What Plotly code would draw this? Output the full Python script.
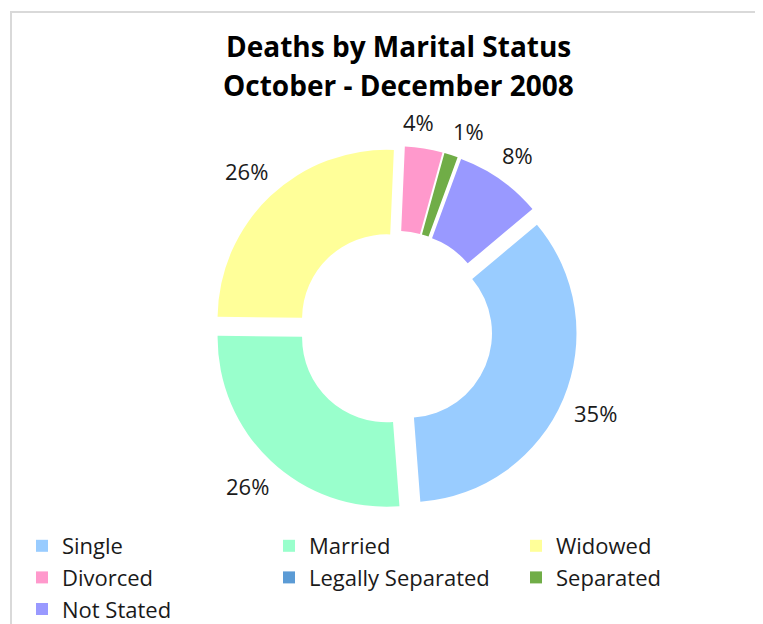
import math
import plotly.graph_objects as go

labels = ["Single", "Married", "Widowed", "Divorced", "Legally Separated", "Separated", "Not Stated"]
values = [34.9, 26.4, 25.5, 3.6, 0, 1.3, 8.3]
colors = ["#99CCFF", "#99FFCC", "#FFFF99", "#FF99CC", "#5B9BD5", "#70AD47", "#9999FF"]
title_lines = ["Deaths by Marital Status", "October - December 2008"]

W, H = 763, 624
OFF = 8  # page offset of the figure (body margin)
FONT = "Open Sans"
TXT = "#1a1a1a"


def px_x(x):
    return (x - OFF) / W


def px_y(y):
    return 1 - (y - OFF) / H


# pie geometry (page pixels)
CX, CY = 395.5, 328.3
R = 169.0
PULL = 0.077
ROT = 50.0
half = R * (1 + PULL)

fig = go.Figure(go.Pie(
    labels=labels,
    values=values,
    marker=dict(colors=colors, line=dict(width=0)),
    hole=0.5,
    pull=PULL,
    sort=False,
    direction="clockwise",
    rotation=ROT,
    textinfo="none",
    domain=dict(x=[px_x(CX - half), px_x(CX + half)], y=[px_y(CY + half), px_y(CY - half)]),
    showlegend=True,
    hoverinfo="label+percent",
))

# percentage labels placed outside each slice, computed from the values
total = sum(values)
items = []
cum = 0.0
for lab, v in zip(labels, values):
    frac = v / total
    mid = ROT + (cum + frac / 2) * 360
    cum += frac
    if v <= 0:
        continue
    items.append({"txt": "%d%%" % round(frac * 100), "ang": mid})

# spread neighbouring labels that would be too close
MIN_SEP = 14.0
for _ in range(20):
    for i in range(len(items) - 1):
        a, b = items[i], items[i + 1]
        d = b["ang"] - a["ang"]
        if d < MIN_SEP:
            push = (MIN_SEP - d) / 2
            a["ang"] -= push
            b["ang"] += push

annotations = []
for it in items:
    ang = math.radians(it["ang"])
    tw, th = 13.5 * len(it["txt"]), 24
    rl = 194 + abs(math.sin(ang)) * tw / 2 + abs(math.cos(ang)) * th / 2
    lx = CX + rl * math.sin(ang)
    ly = CY - rl * math.cos(ang)
    annotations.append(dict(text=it["txt"], x=px_x(lx), y=px_y(ly), xref="paper", yref="paper",
                            showarrow=False, xanchor="center", yanchor="middle",
                            font=dict(family=FONT, size=22, color=TXT)))

annotations += [
    dict(text="<b>%s</b>" % title_lines[0], x=px_x(398.5), y=px_y(46), xref="paper", yref="paper",
         showarrow=False, xanchor="center", yanchor="middle",
         font=dict(family=FONT, size=28, color="black")),
    dict(text="<b>%s</b>" % title_lines[1], x=px_x(398.5), y=px_y(85), xref="paper", yref="paper",
         showarrow=False, xanchor="center", yanchor="middle",
         font=dict(family=FONT, size=28, color="black")),
]

fig.update_layout(
    width=W, height=H,
    margin=dict(l=0, r=0, t=0, b=0, autoexpand=False),
    paper_bgcolor="white",
    plot_bgcolor="white",
    font=dict(family=FONT, color=TXT),
    legend=dict(
        orientation="h",
        x=14 / W, y=1 - 517 / H,
        xanchor="left", yanchor="top",
        entrywidth=202, entrywidthmode="pixels",
        font=dict(family=FONT, size=22, color=TXT),
        traceorder="normal",
    ),
    annotations=annotations,
    shapes=[dict(type="rect", xref="paper", yref="paper",
                 x0=px_x(11), x1=px_x(760), y0=-0.05, y1=px_y(12),
                 line=dict(color="#D9D9D9", width=2), fillcolor="rgba(0,0,0,0)", layer="below")],
)

fig.write_html("out.html")
